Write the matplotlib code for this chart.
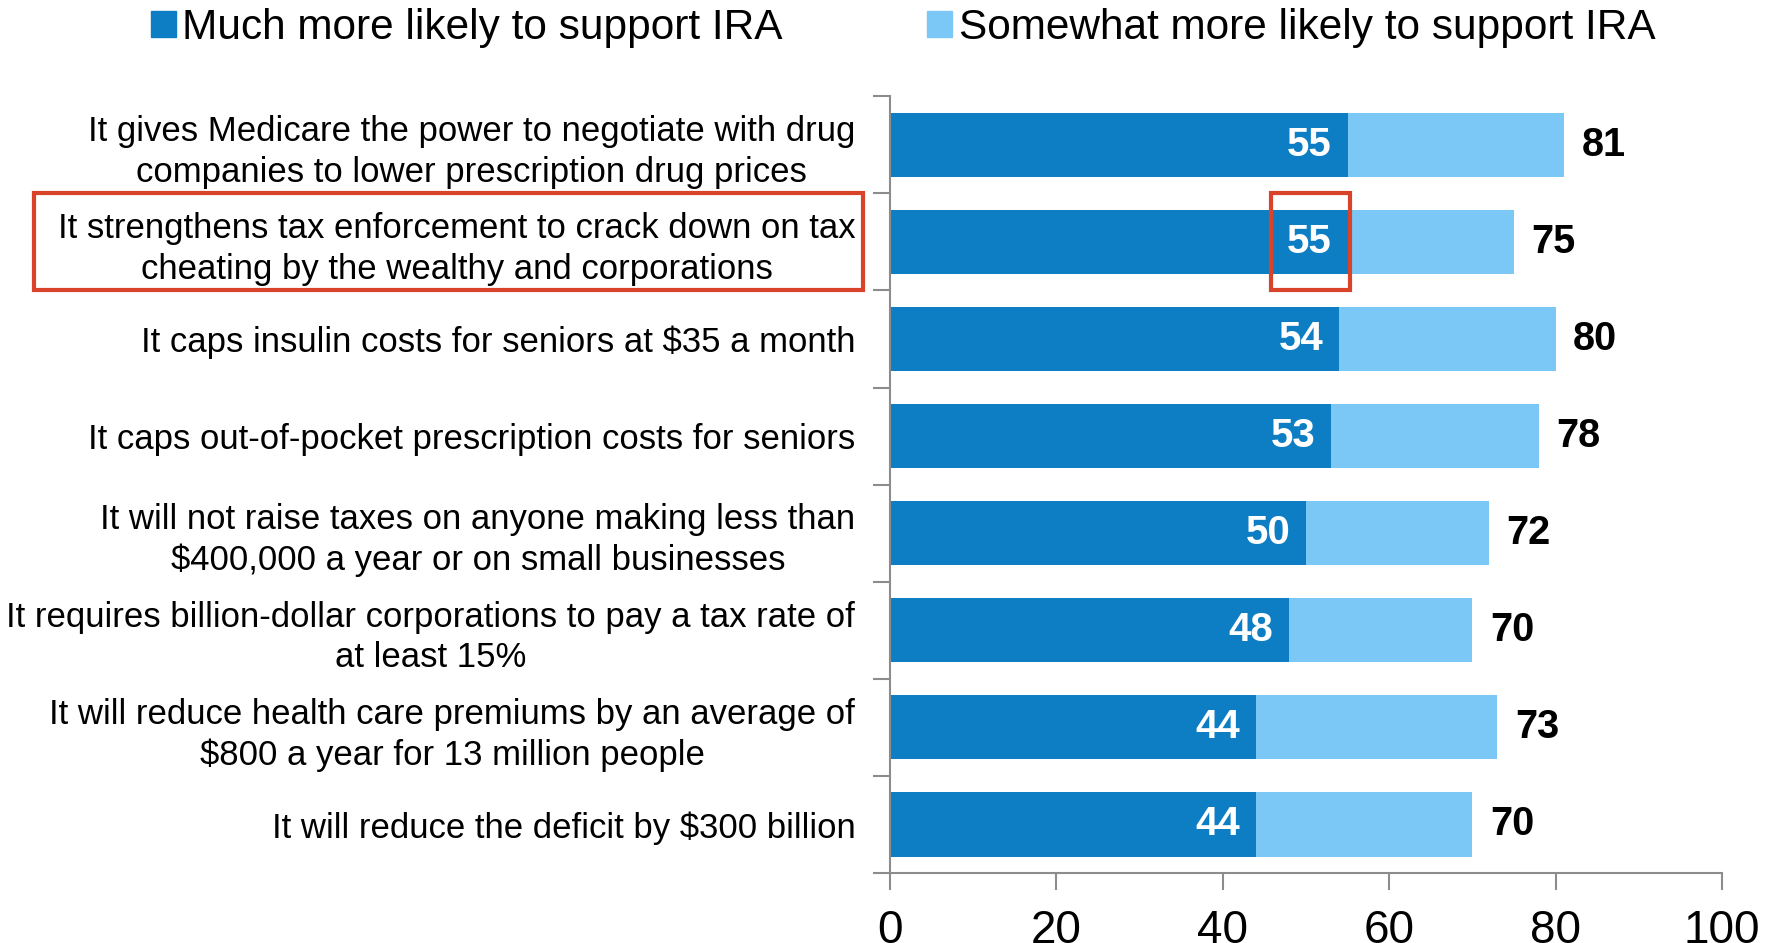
import matplotlib.pyplot as plt
import matplotlib.transforms as mtransforms
from matplotlib.patches import Rectangle, Patch

# data
labels = [
    "It gives Medicare the power to negotiate with drug\ncompanies to lower prescription drug prices",
    "It strengthens tax enforcement to crack down on tax\ncheating by the wealthy and corporations",
    "It caps insulin costs for seniors at $35 a month",
    "It caps out-of-pocket prescription costs for seniors",
    "It will not raise taxes on anyone making less than\n$400,000 a year or on small businesses",
    "It requires billion-dollar corporations to pay a tax rate of\nat least 15%",
    "It will reduce health care premiums by an average of\n$800 a year for 13 million people",
    "It will reduce the deficit by $300 billion",
]
much_more = [55, 55, 54, 53, 50, 48, 44, 44]
total = [81, 75, 80, 78, 72, 70, 73, 70]
somewhat = [t - m for t, m in zip(total, much_more)]

series_names = ["Much more likely to support IRA", "Somewhat more likely to support IRA"]

DARK = "#0E7EC4"
LIGHT = "#7BC8F6"
RED = "#D9432A"
GREY = "#8C8C8C"

plt.rcParams['font.family'] = ['Liberation Sans', 'DejaVu Sans']

fig = plt.figure(figsize=(17.67, 9.43), dpi=100)
ax = fig.add_axes([0.5037, 0.0742, 0.4708, 0.8238])

ypos = list(range(len(labels)))
ax.barh(ypos, much_more, height=0.66, color=DARK)
ax.barh(ypos, somewhat, left=much_more, height=0.66, color=LIGHT)

for y, m, t in zip(ypos, much_more, total):
    ax.text(m - 1.9, y, str(m), ha='right', va='center', color='white',
            fontsize=29, fontweight='bold')
    ax.text(t + 2.1, y, str(t), ha='left', va='center', color='black',
            fontsize=28.5, fontweight='bold')

ax.set_xlim(0, 100)
ax.set_ylim(len(labels) - 0.5, -0.5)
ax.set_xticks([0, 20, 40, 60, 80, 100])
ax.tick_params(axis='x', labelsize=33, length=12, width=1.5, color=GREY, pad=14)

ax.set_yticks(ypos)
ax.set_yticklabels(labels, fontsize=25, multialignment='center', linespacing=1.28)
ax.set_yticks([i - 0.5 for i in range(len(labels) + 1)], minor=True)
ax.tick_params(axis='y', which='major', length=0, pad=25)
ax.tick_params(axis='y', which='minor', length=12, width=1.5, color=GREY)

for side in ['top', 'right']:
    ax.spines[side].set_visible(False)
for side in ['left', 'bottom']:
    ax.spines[side].set_color(GREY)
    ax.spines[side].set_linewidth(1.5)

# highlight boxes
ax.add_patch(Rectangle((45.8, 0.5), 9.5, 1.0, fill=False, edgecolor=RED,
                       linewidth=3, clip_on=False, zorder=5))
blend = mtransforms.blended_transform_factory(fig.transFigure, ax.transData)
ax.add_patch(Rectangle((0.0192, 1.5), 0.4690, -1.0, fill=False, edgecolor=RED,
                       linewidth=3, transform=blend, clip_on=False, zorder=5))

handles = [Patch(color=DARK), Patch(color=LIGHT)]
fig.legend(handles, series_names, loc='upper center', bbox_to_anchor=(0.511, 1.032),
           ncol=2, frameon=False, fontsize=30.5, handlelength=0.6, handleheight=0.6,
           handletextpad=0.15, columnspacing=3.4)

fig.savefig("out.png", dpi=100)
